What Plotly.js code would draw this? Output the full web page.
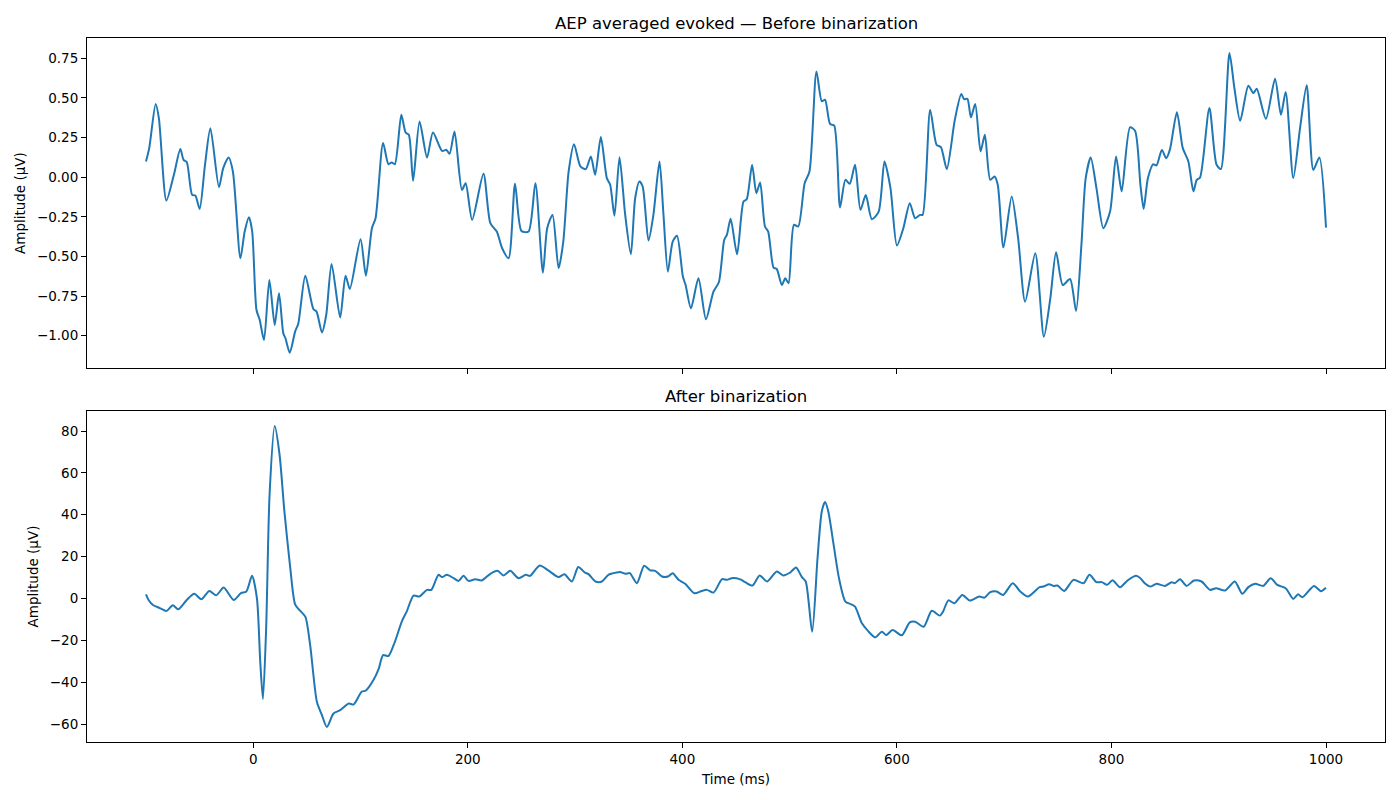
<!DOCTYPE html>
<html>
<head>
<meta charset="utf-8">
<script src="https://cdn.plot.ly/plotly-3.0.1.min.js"></script>
<style>html,body{margin:0;padding:0;background:#fff;}#chart{width:1400px;height:800px;}</style>
</head>
<body>
<div id="chart"></div>
<script>
// Before binarization (time in ms, amplitude in µV)
const timeBefore = [-100,-97,-91,-88,-81,-74,-68,-65,-62,-57,-54,-50,-45,-40,-32,-28,-23,-19,-12,-8,-4,-1,3,6,10,15,20,24,28,30,34,39,42,48.5,56,59,64,68,73,81,86,90,100,105,110.6,114,121,126,129,132,138,142,145,149,155,162,167.5,176,180,183,187.6,194.5,198,204,214.6,221,227,232,238,244,250,256.6,263,270,274,279,284.6,289,294,299,305,310,314.7,318.7,324,329.6,332.7,336.7,341.4,346.7,352,356,360,363,368.4,373,378.7,382.4,386.5,391,395,400.5,403,408,415,422,429,434,439,441.5,445,451,457,460,465,469,472.5,477,480,485,488,492.7,496,499,504,508,514,518.5,525,530,533,537.7,541.5,547,552,556,561,566,571,576.6,583,588.4,594,600,606,612,617,621.6,624,631,637,641,646.5,654,660,662.6,665.7,669,673,678,682,687,691,694,699.3,707,713,719.5,729,737,743,748.4,754.6,761.4,767,772,776,780.7,786,792.4,798.7,804.3,809.5,817.3,822,827,830,834,839,842,847,851,854.6,861,866.5,871.7,876.4,879.5,882.6,891.3,898,902,910,914.6,920,927.6,932.3,935.4,944,952.5,958,962.4,969.5,975.8,982,988.2,993.8,1000];
const ampBefore = [0.099,0.183,0.461,0.372,-0.147,0.015,0.177,0.109,0.095,-0.112,-0.116,-0.2,0.078,0.309,-0.063,0.057,0.124,0.036,-0.511,-0.343,-0.253,-0.343,-0.838,-0.9,-1.027,-0.648,-0.932,-0.732,-0.985,-1.016,-1.107,-0.974,-0.922,-0.621,-0.831,-0.848,-0.979,-0.869,-0.547,-0.885,-0.621,-0.705,-0.391,-0.621,-0.322,-0.259,0.215,0.082,0.093,0.082,0.393,0.282,0.267,-0.023,0.351,0.124,0.282,0.166,0.172,0.147,0.288,-0.08,-0.038,-0.27,0.021,-0.29,-0.343,-0.448,-0.511,-0.042,-0.339,-0.343,-0.038,-0.602,-0.322,-0.238,-0.575,-0.406,0.036,0.208,0.068,0.051,0.131,0.015,0.253,-0.006,-0.048,-0.244,0.126,-0.238,-0.486,-0.133,-0.027,-0.059,-0.4,-0.238,0.099,-0.238,-0.596,-0.406,-0.37,-0.627,-0.68,-0.827,-0.638,-0.896,-0.722,-0.663,-0.396,-0.364,-0.263,-0.486,-0.154,-0.139,0.078,-0.101,-0.034,-0.311,-0.343,-0.57,-0.579,-0.68,-0.638,-0.669,-0.301,-0.311,-0.038,0.036,0.667,0.478,0.488,0.335,0.326,-0.191,-0.017,-0.042,0.078,-0.206,-0.112,-0.265,-0.217,0.099,-0.069,-0.431,-0.322,-0.164,-0.259,-0.238,-0.238,0.425,0.204,0.19,0.051,0.362,0.524,0.492,0.494,0.377,0.461,0.162,0.267,-0.017,0.004,-0.048,-0.444,-0.122,-0.385,-0.785,-0.48,-1.006,-0.764,-0.473,-0.68,-0.642,-0.844,-0.427,-0.006,0.124,-0.069,-0.322,-0.217,0.131,-0.09,0.314,0.292,-0.048,-0.2,-0.006,0.082,0.074,0.172,0.12,0.177,0.41,0.183,0.099,-0.09,-0.017,-0.002,0.436,0.078,0.051,0.783,0.562,0.355,0.577,0.53,0.557,0.368,0.621,0.393,0.537,-0.006,0.309,0.579,0.046,0.124,-0.318];

// After binarization
const timeAfter = [-100,-97.6,-93.5,-86.7,-81,-75,-70,-62,-55,-48.5,-41,-34.5,-27.6,-18.3,-11.5,-6.5,-1.2,3.4,6.5,9,12,15.2,20,24.5,29,34.5,39,43,48.5,53,59.3,64,68.6,74.8,81,89,93.5,101,105,112,117,121,126,132,138.6,143,149.4,154.7,162,166,172.7,176,180.5,186.7,191.4,196,200.7,207,213,221,227.7,233.3,239.5,247.3,254,258,267,275,284.6,290,297,303,309,312.5,319,325,331,339,342,347,351,357.6,364.4,370,374.7,381,386.5,391,396.4,402.6,411.3,418,423,429,437,441.5,446,454,458.5,465.4,472,479,488,494,500.5,506,511.4,515,521,526,530,533,536,541,546,552,557.4,561,567.4,573,579.7,586,590,596,604.6,612,617,625,632.5,640,643,648,653.6,661,668,676.7,681.6,687,693,699,708,715,722,733,736.6,742,746,749.6,756,764.6,774,779.5,786,791,796,801,808,815,823,827,831,836.6,842,850,856,859,864,870,877,884,892,897.5,906,915,922,927.6,934,941.6,948.4,954.6,962.4,969.5,974,978,988.8,995.3,1000];
const ampAfter = [2.0,-0.7,-3.1,-4.7,-6.0,-3.2,-5.2,-0.7,2.2,-0.4,3.6,1.5,5.2,-0.7,2.5,3.3,10.8,0.1,-30.3,-48.1,-14.3,49.7,82.4,68.8,41.7,14.5,-2.8,-5.5,-8.7,-22.2,-49.4,-55.8,-61.4,-55.0,-53.4,-50.2,-50.7,-44.6,-44.0,-39.0,-33.5,-27.1,-27.5,-20.7,-10.8,-6.3,1.4,0.9,4.1,4.1,11.3,10.2,11.3,9.7,8.4,10.8,8.4,9.2,8.6,11.8,13.2,11.0,13.2,9.7,11.3,10.8,15.8,13.4,10.2,11.6,8.1,15.0,12.4,11.6,8.1,8.1,11.3,12.4,12.6,11.8,12.1,7.3,15.6,13.4,13.2,10.5,10.5,12.1,8.9,7.0,2.5,3.6,4.1,2.8,9.2,8.9,9.7,9.1,7.8,6.2,11.0,8.1,12.9,11.0,12.4,14.8,10.2,8.1,-15.9,19.3,41.7,46.1,41.7,25.7,9.7,-1.5,-2.8,-3.9,-11.9,-15.5,-18.6,-15.9,-17.5,-15.1,-17.6,-11.4,-11.1,-13.5,-5.9,-8.2,-6.3,-0.9,-2.3,1.7,-1.0,0.9,0.4,3.0,3.3,1.7,7.3,3.3,0.9,5.4,5.7,6.8,6.0,6.2,3.6,8.9,7.3,11.3,7.8,7.8,6.5,8.7,5.4,8.6,10.8,9.7,7.3,5.7,7.0,6.0,7.8,7.3,9.2,6.0,8.6,8.1,4.1,4.9,3.8,8.1,2.2,5.4,7.0,6.0,9.7,6.5,4.9,-0.2,2.0,0.6,6.0,3.5,5.1];

const xTicks = [0,200,400,600,800,1000];
const yTicksBefore = [-1.0,-0.75,-0.5,-0.25,0,0.25,0.5,0.75];
const yTicksAfter = [-60,-40,-20,0,20,40,60,80];

const FONT = 'DejaVu Sans, sans-serif';
const lineStyle = {color:'#1f77b4', width:2, shape:'spline', smoothing:0.7};

const traces = [
  {x: timeBefore, y: ampBefore, type:'scatter', mode:'lines', line: lineStyle, xaxis:'x', yaxis:'y', hoverinfo:'x+y'},
  {x: timeAfter, y: ampAfter, type:'scatter', mode:'lines', line: lineStyle, xaxis:'x2', yaxis:'y2', hoverinfo:'x+y'}
];

const axisCommon = {
  showline:true, mirror:true, linecolor:'#000', linewidth:1,
  ticks:'outside', ticklen:5, tickwidth:1, tickcolor:'#000',
  showgrid:false, zeroline:false,
  tickfont:{family:FONT, size:13.5, color:'#000'}
};

const layout = {
  width:1400, height:800,
  paper_bgcolor:'#fff', plot_bgcolor:'#fff',
  margin:{l:87, r:15, t:38, b:58},
  showlegend:false,
  font:{family:FONT, color:'#000'},
  xaxis: Object.assign({}, axisCommon, {domain:[0,1], anchor:'y', range:[-155,1055], tickvals:xTicks, showticklabels:false}),
  yaxis: Object.assign({}, axisCommon, {domain:[0.531,1], anchor:'x', range:[-1.2045,0.8775], tickvals:yTicksBefore, tickformat:'.2f',
    title:{text:'Amplitude (µV)', font:{family:FONT, size:13.5, color:'#000'}, standoff:8}}),
  xaxis2: Object.assign({}, axisCommon, {domain:[0,1], anchor:'y2', range:[-155,1055], tickvals:xTicks,
    title:{text:'Time (ms)', font:{family:FONT, size:13.5, color:'#000'}, standoff:8}}),
  yaxis2: Object.assign({}, axisCommon, {domain:[0,0.4702], anchor:'x2', range:[-68.6,89.6], tickvals:yTicksAfter,
    title:{text:'Amplitude (µV)', font:{family:FONT, size:13.5, color:'#000'}, standoff:8}}),
  annotations:[
    {text:'AEP averaged evoked — Before binarization', xref:'paper', yref:'y domain', x:0.5, y:1, yanchor:'bottom', xanchor:'center', yshift:3, showarrow:false, font:{family:FONT, size:16.5, color:'#000'}},
    {text:'After binarization', xref:'paper', yref:'y2 domain', x:0.5, y:1, yanchor:'bottom', xanchor:'center', yshift:3, showarrow:false, font:{family:FONT, size:16.5, color:'#000'}}
  ]
};

Plotly.newPlot('chart', traces, layout, {displayModeBar:false, staticPlot:true});
</script>
</body>
</html>
